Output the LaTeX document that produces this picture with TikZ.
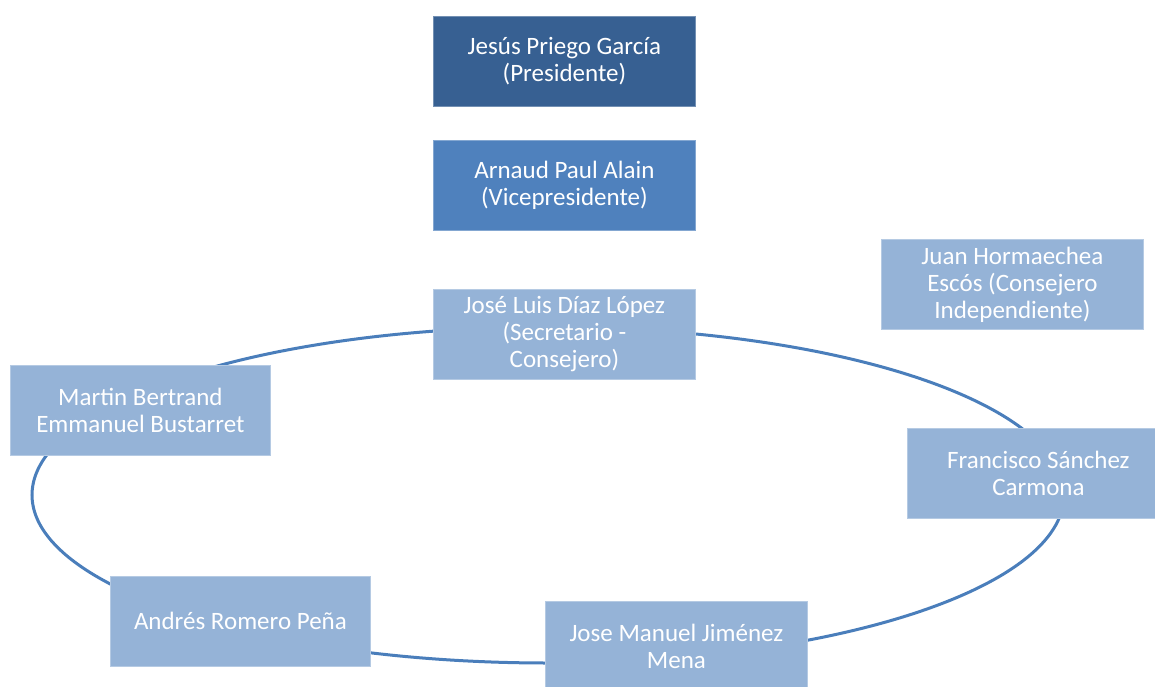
\documentclass[tikz,border=0pt]{standalone}
\usepackage{fontspec}
\setmainfont{Carlito}
\definecolor{darkbox}{HTML}{376092}
\definecolor{midbox}{HTML}{4F81BD}
\definecolor{lightbox}{HTML}{95B3D7}
\definecolor{ringline}{HTML}{4A7EBB}
\tikzset{
  member/.style={rectangle, fill=lightbox, draw=lightbox!70!white, line width=0.8pt,
    minimum width=262pt, minimum height=90pt, inner sep=2pt, anchor=north west,
    text=white, align=center, font=\fontsize{25}{27}\selectfont},
  darkmember/.style={member, fill=darkbox, draw=darkbox!70!white},
  midmember/.style={member, fill=midbox, draw=midbox!70!white},
  ring/.style={draw=ringline, line width=3pt}
}
\begin{document}
\begin{tikzpicture}[x=1pt,y=-1pt]
\useasboundingbox (0,0) rectangle (1155,687);
\clip (0,0) rectangle (1155,687);
\draw[ring] (548,495) ellipse [x radius=516, y radius=168];
\node[darkmember] (pres) at (433,16) {Jesús Priego García\\(Presidente)};
\node[midmember] (vice) at (433,140) {Arnaud Paul Alain\\(Vicepresidente)};
\node[member] (secr) at (433,289) {José Luis Díaz López\\(Secretario -\\Consejero)};
\node[member] (juan) at (881,239) {Juan Hormaechea\\Escós (Consejero\\Independiente)};
\node[member, minimum width=260pt] (martin) at (10,365) {Martin Bertrand\\Emmanuel Bustarret};
\node[member] (fran) at (907,428) {Francisco Sánchez\\Carmona};
\node[member, minimum width=260pt] (andres) at (110,576) {Andrés Romero Peña};
\node[member] (josem) at (545,601) {Jose Manuel Jiménez\\Mena};
\end{tikzpicture}
\end{document}
